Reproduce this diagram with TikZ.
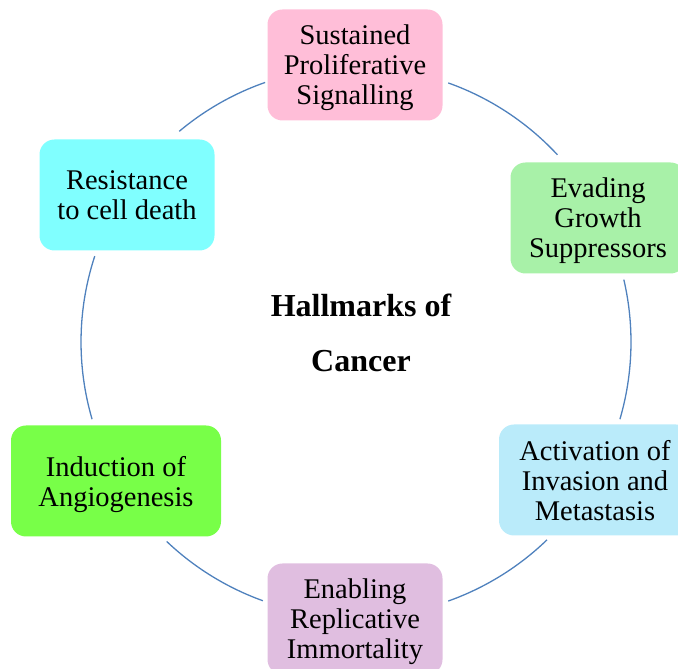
\documentclass[tikz,border=0pt]{standalone}
\usepackage{fontspec}
\setmainfont{Liberation Serif}
\definecolor{pinkbox}{RGB}{255,190,216}
\definecolor{mintbox}{RGB}{168,241,168}
\definecolor{skybox}{RGB}{186,235,250}
\definecolor{lilacbox}{RGB}{224,190,224}
\definecolor{limebox}{RGB}{120,255,72}
\definecolor{aquabox}{RGB}{128,255,255}
\definecolor{ringblue}{RGB}{79,129,189}

\begin{document}
\begin{tikzpicture}[x=1pt, y=1pt,
    hallmark/.style={rounded corners=15pt, minimum height=111pt, inner sep=0pt, align=center,
                     text depth=0pt, font=\fontsize{28.5}{30}\selectfont},
    ring/.style={draw=ringblue, line width=1.3pt}]
                    \useasboundingbox (0,0) rectangle (678,669);
                    \coordinate (hub) at (356,327);

                    \node[hallmark, fill=pinkbox, minimum width=175pt] (prolif) at (355,604) {Sustained\\Proliferative\\Signalling};
                    \node[hallmark, fill=mintbox, minimum width=175pt] (growth) at (598,451) {Evading\\Growth\\Suppressors};
                    \node[hallmark, fill=skybox, minimum width=192pt] (invasion) at (595,189) {Activation of\\Invasion and\\Metastasis};
                    \node[hallmark, fill=lilacbox, minimum width=175pt] (immortal) at (355,50) {Enabling\\Replicative\\Immortality};
                    \node[hallmark, fill=limebox, minimum width=210pt] (angio) at (116,188) {Induction of\\Angiogenesis};
                    \node[hallmark, fill=aquabox, minimum width=175pt] (death) at (127,474) {Resistance\\to cell death};

                    \node[font=\fontsize{32}{55}\selectfont\bfseries, align=center] (title) at (361,336) {Hallmarks of\\Cancer};

                    % ring pieces between the boxes
                    \draw[ring] (hub) ++(70.4:275) arc (70.4:42.9:275);
                    \draw[ring] (hub) ++(13.1:275) arc (13.1:-16.3:275);
                    \draw[ring] (hub) ++(-46:275) arc (-46:-70.4:275);
                    \draw[ring] (hub) ++(-109.8:275) arc (-109.8:-133.5:275);
                    \draw[ring] (hub) ++(196.3:275) arc (196.3:161.8:275);
                    \draw[ring] (hub) ++(130:275) arc (130:109.3:275);
\end{tikzpicture}
\end{document}
